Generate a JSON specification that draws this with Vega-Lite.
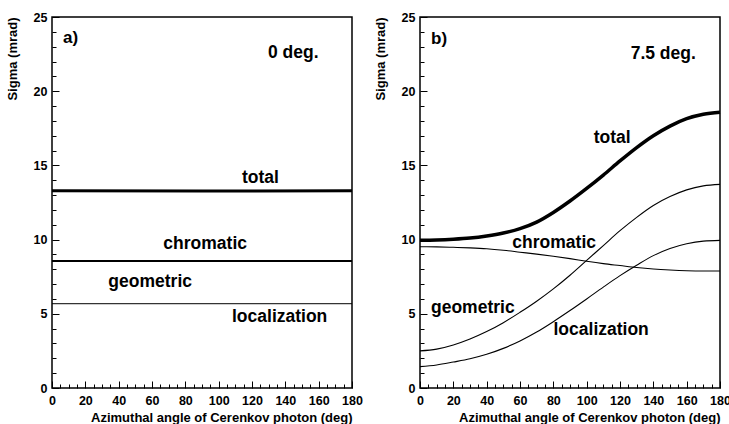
{
  "$schema": "https://vega.github.io/schema/vega-lite/v6.json",
  "background": "white",
  "padding": {"left": 5, "top": 10, "right": 5, "bottom": 5},
  "spacing": 9,
  "config": {
    "view": {"stroke": "black", "strokeWidth": 1.5},
    "font": "Liberation Sans",
    "axis": {
      "labelFont": "Liberation Sans", "labelFontWeight": "bold", "labelFontSize": 12.5, "labelColor": "black",
      "titleFont": "Liberation Sans", "titleFontWeight": "bold", "titleFontSize": 13, "titleColor": "black",
      "tickColor": "black", "tickWidth": 1, "grid": false, "domain": false,
      "labelOverlap": false, "labelBound": false, "labelFlush": false
    }
  },
  "datasets": {
    "a": [
      {"series": "total", "x": 0, "y": 13.3}, {"series": "total", "x": 90, "y": 13.27}, {"series": "total", "x": 180, "y": 13.3},
      {"series": "chromatic", "x": 0, "y": 8.56}, {"series": "chromatic", "x": 90, "y": 8.55}, {"series": "chromatic", "x": 180, "y": 8.56},
      {"series": "geometric", "x": 0, "y": 8.55}, {"series": "geometric", "x": 90, "y": 8.56}, {"series": "geometric", "x": 180, "y": 8.55},
      {"series": "localization", "x": 0, "y": 5.68}, {"series": "localization", "x": 90, "y": 5.68}, {"series": "localization", "x": 180, "y": 5.68}
    ],
    "b": [
      {"series": "total", "x": 0, "y": 9.95}, {"series": "total", "x": 10, "y": 9.97}, {"series": "total", "x": 20, "y": 10.02},
      {"series": "total", "x": 30, "y": 10.1}, {"series": "total", "x": 40, "y": 10.24}, {"series": "total", "x": 50, "y": 10.44},
      {"series": "total", "x": 60, "y": 10.74}, {"series": "total", "x": 70, "y": 11.18}, {"series": "total", "x": 80, "y": 11.83},
      {"series": "total", "x": 90, "y": 12.6}, {"series": "total", "x": 100, "y": 13.45}, {"series": "total", "x": 110, "y": 14.35},
      {"series": "total", "x": 120, "y": 15.3}, {"series": "total", "x": 130, "y": 16.2}, {"series": "total", "x": 140, "y": 17.0},
      {"series": "total", "x": 150, "y": 17.65}, {"series": "total", "x": 160, "y": 18.15}, {"series": "total", "x": 170, "y": 18.45},
      {"series": "total", "x": 180, "y": 18.58},
      {"series": "chromatic", "x": 0, "y": 9.52}, {"series": "chromatic", "x": 10, "y": 9.51}, {"series": "chromatic", "x": 20, "y": 9.48},
      {"series": "chromatic", "x": 30, "y": 9.44}, {"series": "chromatic", "x": 40, "y": 9.38}, {"series": "chromatic", "x": 50, "y": 9.28},
      {"series": "chromatic", "x": 60, "y": 9.15}, {"series": "chromatic", "x": 70, "y": 9.02}, {"series": "chromatic", "x": 80, "y": 8.88},
      {"series": "chromatic", "x": 90, "y": 8.72}, {"series": "chromatic", "x": 100, "y": 8.54}, {"series": "chromatic", "x": 110, "y": 8.38},
      {"series": "chromatic", "x": 120, "y": 8.25}, {"series": "chromatic", "x": 130, "y": 8.12}, {"series": "chromatic", "x": 140, "y": 8.02},
      {"series": "chromatic", "x": 150, "y": 7.95}, {"series": "chromatic", "x": 160, "y": 7.9}, {"series": "chromatic", "x": 170, "y": 7.88},
      {"series": "chromatic", "x": 180, "y": 7.88},
      {"series": "geometric", "x": 0, "y": 2.5}, {"series": "geometric", "x": 10, "y": 2.62}, {"series": "geometric", "x": 20, "y": 2.9},
      {"series": "geometric", "x": 30, "y": 3.3}, {"series": "geometric", "x": 40, "y": 3.8}, {"series": "geometric", "x": 50, "y": 4.4},
      {"series": "geometric", "x": 60, "y": 5.1}, {"series": "geometric", "x": 70, "y": 5.85}, {"series": "geometric", "x": 80, "y": 6.68},
      {"series": "geometric", "x": 90, "y": 7.6}, {"series": "geometric", "x": 100, "y": 8.6}, {"series": "geometric", "x": 110, "y": 9.6},
      {"series": "geometric", "x": 120, "y": 10.6}, {"series": "geometric", "x": 130, "y": 11.5}, {"series": "geometric", "x": 140, "y": 12.3},
      {"series": "geometric", "x": 150, "y": 12.9}, {"series": "geometric", "x": 160, "y": 13.35}, {"series": "geometric", "x": 170, "y": 13.62},
      {"series": "geometric", "x": 180, "y": 13.72},
      {"series": "localization", "x": 0, "y": 1.44}, {"series": "localization", "x": 10, "y": 1.55}, {"series": "localization", "x": 20, "y": 1.75},
      {"series": "localization", "x": 30, "y": 1.97}, {"series": "localization", "x": 40, "y": 2.27}, {"series": "localization", "x": 50, "y": 2.67},
      {"series": "localization", "x": 60, "y": 3.17}, {"series": "localization", "x": 70, "y": 3.77}, {"series": "localization", "x": 80, "y": 4.47},
      {"series": "localization", "x": 90, "y": 5.22}, {"series": "localization", "x": 100, "y": 6.0}, {"series": "localization", "x": 110, "y": 6.8},
      {"series": "localization", "x": 120, "y": 7.57}, {"series": "localization", "x": 130, "y": 8.27}, {"series": "localization", "x": 140, "y": 8.92},
      {"series": "localization", "x": 150, "y": 9.4}, {"series": "localization", "x": 160, "y": 9.72}, {"series": "localization", "x": 170, "y": 9.9},
      {"series": "localization", "x": 180, "y": 9.95}
    ]
  },
  "hconcat": [
    {
      "width": 300, "height": 371,
      "layer": [
        {
          "data": {"name": "a"},
          "mark": {"type": "line", "color": "black", "interpolate": "monotone"},
          "encoding": {
            "x": {"field": "x", "type": "quantitative", "scale": {"domain": [0, 180], "nice": false},
              "axis": {"title": "Azimuthal angle of Cerenkov photon (deg)", "titleAnchor": "end", "titlePadding": 2, "labelPadding": 13, "labelOverlap": false, "tickCount": 100, "format": "d",
                "values": [0,5,10,15,20,25,30,35,40,45,50,55,60,65,70,75,80,85,90,95,100,105,110,115,120,125,130,135,140,145,150,155,160,165,170,175,180],
                "labelExpr": "datum.value % 20 === 0 ? datum.label : ''",
                "tickSize": {"condition": {"test": "datum.value % 20 === 0", "value": -7}, "value": -4}}},
            "y": {"field": "y", "type": "quantitative", "scale": {"domain": [0, 25], "nice": false},
              "axis": {"title": "Sigma (mrad)", "titleAnchor": "end", "titlePadding": 14, "labelPadding": 12, "labelOverlap": false, "tickCount": 100, "format": "d",
                "values": [0,1,2,3,4,5,6,7,8,9,10,11,12,13,14,15,16,17,18,19,20,21,22,23,24,25],
                "labelExpr": "datum.value % 5 === 0 ? datum.label : ''",
                "tickSize": {"condition": {"test": "datum.value % 5 === 0", "value": -7}, "value": -4}}},
            "detail": {"field": "series"},
            "strokeWidth": {"condition": [{"test": "datum.series === 'total'", "value": 3}, {"test": "datum.series === 'chromatic'", "value": 2}], "value": 1}
          }
        },
        {"data": {"values": [{}]}, "mark": {"type": "text", "text": "a)", "align": "left", "baseline": "middle", "fontSize": 17, "fontWeight": "bold", "font": "Liberation Sans"},
          "encoding": {"x": {"datum": 6.6}, "y": {"datum": 23.6}}},
        {"data": {"values": [{}]}, "mark": {"type": "text", "text": "0 deg.", "align": "left", "baseline": "middle", "fontSize": 17.5, "fontWeight": "bold", "font": "Liberation Sans"},
          "encoding": {"x": {"datum": 129.6}, "y": {"datum": 22.6}}},
        {"data": {"values": [{}]}, "mark": {"type": "text", "text": "total", "align": "left", "baseline": "middle", "fontSize": 17.5, "fontWeight": "bold", "font": "Liberation Sans"},
          "encoding": {"x": {"datum": 114}, "y": {"datum": 14.15}}},
        {"data": {"values": [{}]}, "mark": {"type": "text", "text": "chromatic", "align": "left", "baseline": "middle", "fontSize": 17.5, "fontWeight": "bold", "font": "Liberation Sans"},
          "encoding": {"x": {"datum": 66.8}, "y": {"datum": 9.7}}},
        {"data": {"values": [{}]}, "mark": {"type": "text", "text": "geometric", "align": "left", "baseline": "middle", "fontSize": 17.5, "fontWeight": "bold", "font": "Liberation Sans"},
          "encoding": {"x": {"datum": 33.8}, "y": {"datum": 7.14}}},
        {"data": {"values": [{}]}, "mark": {"type": "text", "text": "localization", "align": "left", "baseline": "middle", "fontSize": 17.5, "fontWeight": "bold", "font": "Liberation Sans"},
          "encoding": {"x": {"datum": 108}, "y": {"datum": 4.78}}}
      ]
    },
    {
      "width": 300, "height": 371,
      "layer": [
        {
          "data": {"name": "b"},
          "mark": {"type": "line", "color": "black", "interpolate": "monotone"},
          "encoding": {
            "x": {"field": "x", "type": "quantitative", "scale": {"domain": [0, 180], "nice": false},
              "axis": {"title": "Azimuthal angle of Cerenkov photon (deg)", "titleAnchor": "end", "titlePadding": 2, "labelPadding": 13, "labelOverlap": false, "tickCount": 100, "format": "d",
                "values": [0,5,10,15,20,25,30,35,40,45,50,55,60,65,70,75,80,85,90,95,100,105,110,115,120,125,130,135,140,145,150,155,160,165,170,175,180],
                "labelExpr": "datum.value % 20 === 0 ? datum.label : ''",
                "tickSize": {"condition": {"test": "datum.value % 20 === 0", "value": -7}, "value": -4}}},
            "y": {"field": "y", "type": "quantitative", "scale": {"domain": [0, 25], "nice": false},
              "axis": {"title": "Sigma (mrad)", "titleAnchor": "end", "titlePadding": 14, "labelPadding": 12, "labelOverlap": false, "tickCount": 100, "format": "d",
                "values": [0,1,2,3,4,5,6,7,8,9,10,11,12,13,14,15,16,17,18,19,20,21,22,23,24,25],
                "labelExpr": "datum.value % 5 === 0 ? datum.label : ''",
                "tickSize": {"condition": {"test": "datum.value % 5 === 0", "value": -7}, "value": -4}}},
            "detail": {"field": "series"},
            "strokeWidth": {"condition": {"test": "datum.series === 'total'", "value": 3.5}, "value": 1.1}
          }
        },
        {"data": {"values": [{}]}, "mark": {"type": "text", "text": "b)", "align": "left", "baseline": "middle", "fontSize": 17, "fontWeight": "bold", "font": "Liberation Sans"},
          "encoding": {"x": {"datum": 6.6}, "y": {"datum": 23.55}}},
        {"data": {"values": [{}]}, "mark": {"type": "text", "text": "7.5 deg.", "align": "left", "baseline": "middle", "fontSize": 17.5, "fontWeight": "bold", "font": "Liberation Sans"},
          "encoding": {"x": {"datum": 126.4}, "y": {"datum": 22.54}}},
        {"data": {"values": [{}]}, "mark": {"type": "text", "text": "total", "align": "left", "baseline": "middle", "fontSize": 17.5, "fontWeight": "bold", "font": "Liberation Sans"},
          "encoding": {"x": {"datum": 104.2}, "y": {"datum": 16.85}}},
        {"data": {"values": [{}]}, "mark": {"type": "text", "text": "chromatic", "align": "left", "baseline": "middle", "fontSize": 17.5, "fontWeight": "bold", "font": "Liberation Sans"},
          "encoding": {"x": {"datum": 55.4}, "y": {"datum": 9.77}}},
        {"data": {"values": [{}]}, "mark": {"type": "text", "text": "geometric", "align": "left", "baseline": "middle", "fontSize": 17.5, "fontWeight": "bold", "font": "Liberation Sans"},
          "encoding": {"x": {"datum": 6.6}, "y": {"datum": 5.36}}},
        {"data": {"values": [{}]}, "mark": {"type": "text", "text": "localization", "align": "left", "baseline": "middle", "fontSize": 17.5, "fontWeight": "bold", "font": "Liberation Sans"},
          "encoding": {"x": {"datum": 80.1}, "y": {"datum": 3.9}}}
      ]
    }
  ]
}
